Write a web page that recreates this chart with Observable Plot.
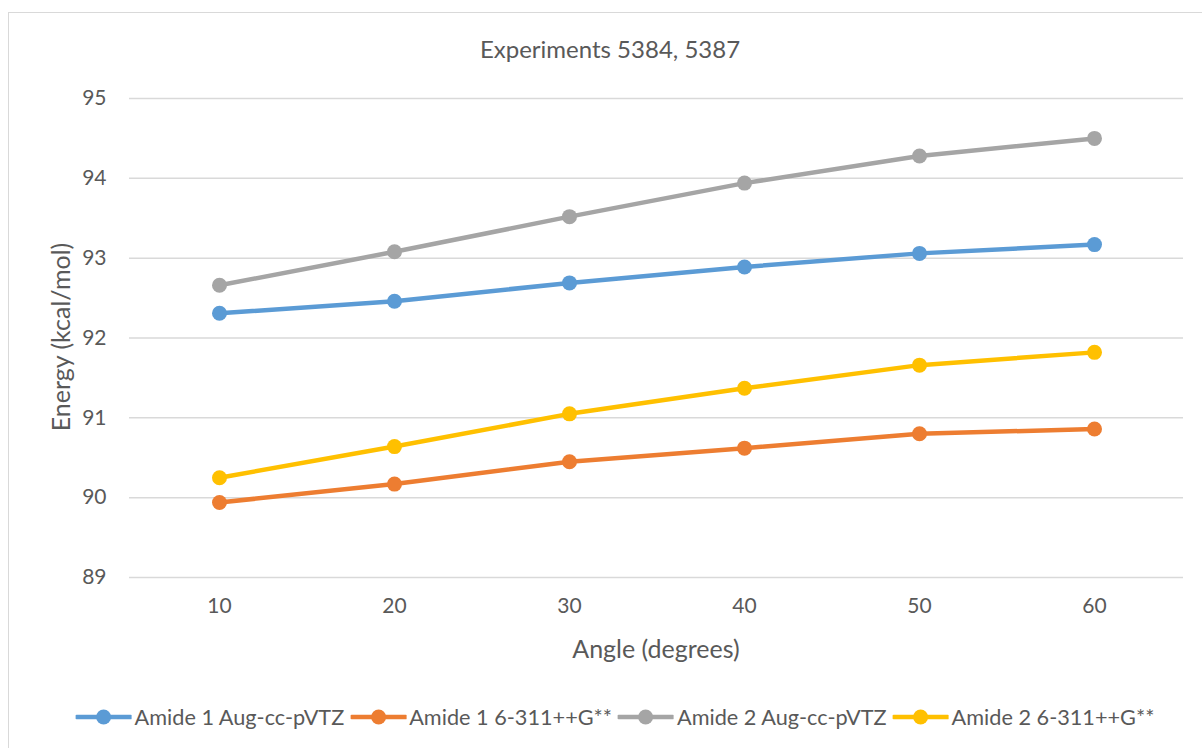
<!DOCTYPE html>
<html><head><meta charset="utf-8">
<script src="https://cdn.jsdelivr.net/npm/d3@7"></script>
<script src="https://cdn.jsdelivr.net/npm/@observablehq/plot@0.6"></script>
<style>
body{margin:0;background:#fff;font-family:Lato,sans-serif;color:#595959}
#wrap{position:relative;width:1202px;height:748px;overflow:hidden}
#frame{position:absolute;left:8px;top:12px;width:1300px;height:800px;border-left:1.5px solid #d9d9d9;border-top:1.5px solid #d9d9d9}
#title{position:absolute;top:48px;left:610px;transform:translate(-50%,-50%);font-size:24px;white-space:nowrap}
#chart{position:absolute;left:0;top:80px}
#ylab{position:absolute;left:60px;top:337px;transform:translate(-50%,-50%) rotate(-90deg);font-size:25px;white-space:nowrap}
#xlab{position:absolute;left:656px;top:648px;transform:translate(-50%,-50%);font-size:25px;white-space:nowrap}
#legend{position:absolute;top:717px;left:615px;transform:translate(-50%,-50%);display:flex;align-items:center;white-space:nowrap;font-size:21.7px}
.item{display:flex;align-items:center;margin:0 3px}
.item svg{margin-right:3px}
</style></head>
<body>
<div id="wrap">
<div id="frame"></div>
<div id="title"></div>
<div id="chart"></div>
<div id="ylab"></div>
<div id="xlab"></div>
<div id="legend"></div>
</div>
<script>
const titleText = "Experiments 5384, 5387";
const yLabel = "Energy (kcal/mol)";
const xLabel = "Angle (degrees)";
const angles = [10, 20, 30, 40, 50, 60];
const seriesNames = ["Amide 1 Aug-cc-pVTZ", "Amide 1 6-311++G**", "Amide 2 Aug-cc-pVTZ", "Amide 2 6-311++G**"];
const seriesColors = ["#5B9BD5", "#ED7D31", "#A5A5A5", "#FFC000"];
const amide1Aug = [92.31, 92.46, 92.69, 92.89, 93.06, 93.17];
const amide1Pople = [89.94, 90.17, 90.45, 90.62, 90.80, 90.86];
const amide2Aug = [92.66, 93.08, 93.52, 93.94, 94.28, 94.50];
const amide2Pople = [90.25, 90.64, 91.05, 91.37, 91.66, 91.82];
const yTicks = [89, 90, 91, 92, 93, 94, 95];

const seriesValues = [amide1Aug, amide1Pople, amide2Aug, amide2Pople];
const data = [];
seriesValues.forEach((vals, i) => vals.forEach((v, j) => data.push({series: seriesNames[i], angle: angles[j], energy: v})));

document.getElementById("title").textContent = titleText;
document.getElementById("ylab").textContent = yLabel;
document.getElementById("xlab").textContent = xLabel;

const chart = Plot.plot({
  width: 1202, height: 590,
  marginLeft: 129, marginRight: 19, marginTop: 18, marginBottom: 93,
  x: {type: "point", domain: angles, padding: 0.5},
  y: {domain: [89, 95]},
  color: {domain: seriesNames, range: seriesColors},
  style: {fontFamily: "Lato, sans-serif", fontSize: "21px", color: "#595959", background: "transparent"},
  marks: [
    Plot.ruleY(yTicks, {stroke: "#d9d9d9", strokeWidth: 1.5}),
    Plot.axisY({ticks: yTicks, tickSize: 0, tickPadding: 23, label: null, tickFormat: d => String(d)}),
    Plot.axisX({tickSize: 0, tickPadding: 21, label: null}),
    Plot.line(data, {x: "angle", y: "energy", z: "series", stroke: "series", strokeWidth: 4.5, strokeLinejoin: "round", strokeLinecap: "round"}),
    Plot.dot(data, {x: "angle", y: "energy", fill: "series", r: 7.5})
  ]
});
document.getElementById("chart").appendChild(chart);

const legend = document.getElementById("legend");
seriesNames.forEach((name, i) => {
  const item = document.createElement("div");
  item.className = "item";
  const ns = "http://www.w3.org/2000/svg";
  const s = document.createElementNS(ns, "svg");
  s.setAttribute("width", 56); s.setAttribute("height", 18);
  const l = document.createElementNS(ns, "line");
  l.setAttribute("x1", 1); l.setAttribute("x2", 55); l.setAttribute("y1", 9); l.setAttribute("y2", 9);
  l.setAttribute("stroke", seriesColors[i]); l.setAttribute("stroke-width", 4.5); l.setAttribute("stroke-linecap", "round");
  const c = document.createElementNS(ns, "circle");
  c.setAttribute("cx", 28); c.setAttribute("cy", 9); c.setAttribute("r", 7.5); c.setAttribute("fill", seriesColors[i]);
  s.appendChild(l); s.appendChild(c);
  const t = document.createElement("span");
  t.textContent = name;
  item.appendChild(s); item.appendChild(t);
  legend.appendChild(item);
});
</script>
</body></html>
